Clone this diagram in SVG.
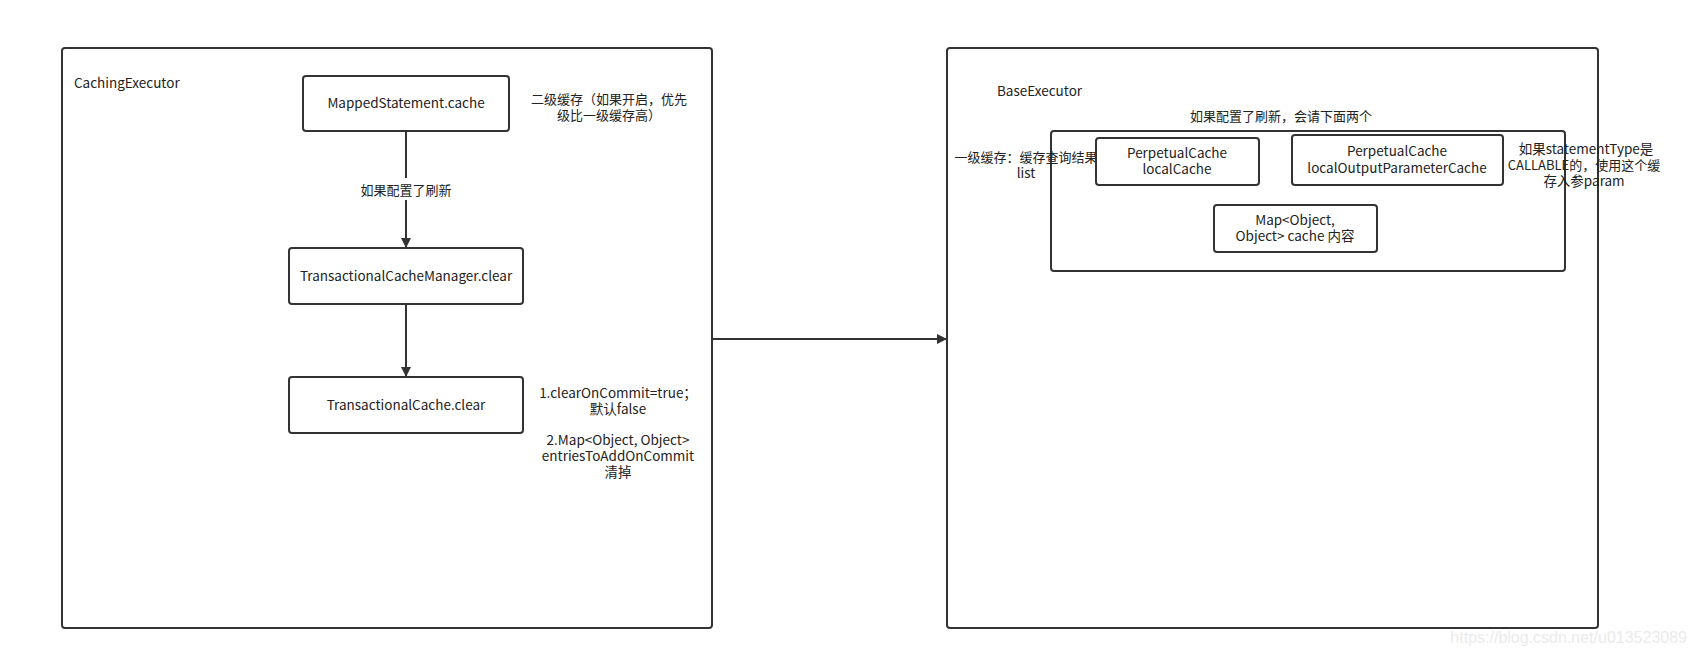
<svg xmlns="http://www.w3.org/2000/svg" width="1695" height="661" viewBox="0 0 1695 661">
<defs>
<marker id="arr" markerWidth="10" markerHeight="10" refX="9" refY="5" orient="auto" markerUnits="userSpaceOnUse">
<path d="M0,0 L10,5 L0,10 Z" fill="#333"/>
</marker>
<style>
.box{fill:#fff;stroke:#333;stroke-width:2}
.t{font-family:"Noto Sans CJK SC","Noto Sans",sans-serif;font-size:13.5px;fill:#222}
.z{font-size:13px}
.c{text-anchor:middle}
.ln{stroke:#333;stroke-width:2;fill:none}
</style>
</defs>
<rect width="1695" height="661" fill="#fff"/>
<g id="caching-executor">
<rect class="box" x="62" y="48" width="650" height="580" rx="3"/>
<text class="t" x="74" y="88">CachingExecutor</text>
</g>
<g id="base-executor">
<rect class="box" x="947" y="48" width="651" height="580" rx="3"/>
<text class="t" x="997" y="96">BaseExecutor</text>
</g>
<g id="mapped-statement">
<rect class="box" x="303" y="76" width="206" height="55" rx="3"/>
<text class="t c" x="406" y="108">MappedStatement.cache</text>
</g>
<g id="note-l2">
<text class="t z c" x="609" y="104">二级缓存（如果开启，优先</text>
<text class="t z c" x="609" y="120">级比一级缓存高）</text>
</g>
<g id="tcm">
<rect class="box" x="289" y="248" width="234" height="56" rx="3"/>
<text class="t c" x="406" y="281">TransactionalCacheManager.clear</text>
</g>
<g id="tc">
<rect class="box" x="289" y="377" width="234" height="56" rx="3"/>
<text class="t c" x="406" y="410">TransactionalCache.clear</text>
</g>
<g id="note-tc">
<text class="t c" x="618" y="398">1.clearOnCommit=true；</text>
<text class="t c" x="618" y="414">默认false</text>
<text class="t c" x="618" y="445">2.Map&lt;Object, Object&gt;</text>
<text class="t c" x="618" y="461">entriesToAddOnCommit</text>
<text class="t c" x="618" y="477">清掉</text>
</g>
<g id="refresh-group">
<text class="t z c" x="1281" y="121">如果配置了刷新，会请下面两个</text>
<rect class="box" x="1051" y="131" width="514" height="140" rx="3"/>
</g>
<g id="note-l1">
<text class="t z c" x="1026" y="162">一级缓存：缓存查询结果</text>
<text class="t c" x="1026" y="178">list</text>
</g>
<g id="local-cache">
<rect class="box" x="1096" y="138" width="163" height="47" rx="3"/>
<text class="t c" x="1177" y="158">PerpetualCache</text>
<text class="t c" x="1177" y="174">localCache</text>
</g>
<g id="local-output-cache">
<rect class="box" x="1292" y="135" width="211" height="50" rx="3"/>
<text class="t c" x="1397" y="156">PerpetualCache</text>
<text class="t c" x="1397" y="173">localOutputParameterCache</text>
</g>
<g id="note-callable">
<text class="t c" x="1586" y="154">如果statementType是</text>
<text class="t z c" x="1584" y="170">CALLABLE的，使用这个缓</text>
<text class="t c" x="1584" y="186">存入参param</text>
</g>
<g id="map-cache">
<rect class="box" x="1214" y="205" width="163" height="47" rx="3"/>
<text class="t c" x="1295" y="225">Map&lt;Object,</text>
<text class="t c" x="1295" y="241">Object&gt; cache 内容</text>
</g>
<g id="connectors">
<line class="ln" x1="406" y1="131" x2="406" y2="178"/>
<line class="ln" x1="406" y1="200" x2="406" y2="247" marker-end="url(#arr)"/>
<text class="t z c" x="406" y="195">如果配置了刷新</text>
<line class="ln" x1="406" y1="304" x2="406" y2="376" marker-end="url(#arr)"/>
<line class="ln" x1="712" y1="339" x2="946" y2="339" marker-end="url(#arr)"/>
</g>
<text x="1687" y="643" text-anchor="end" font-family="Liberation Sans, Arial, sans-serif" font-size="16" fill="#ebebeb">https://blog.csdn.net/u013523089</text>
</svg>
